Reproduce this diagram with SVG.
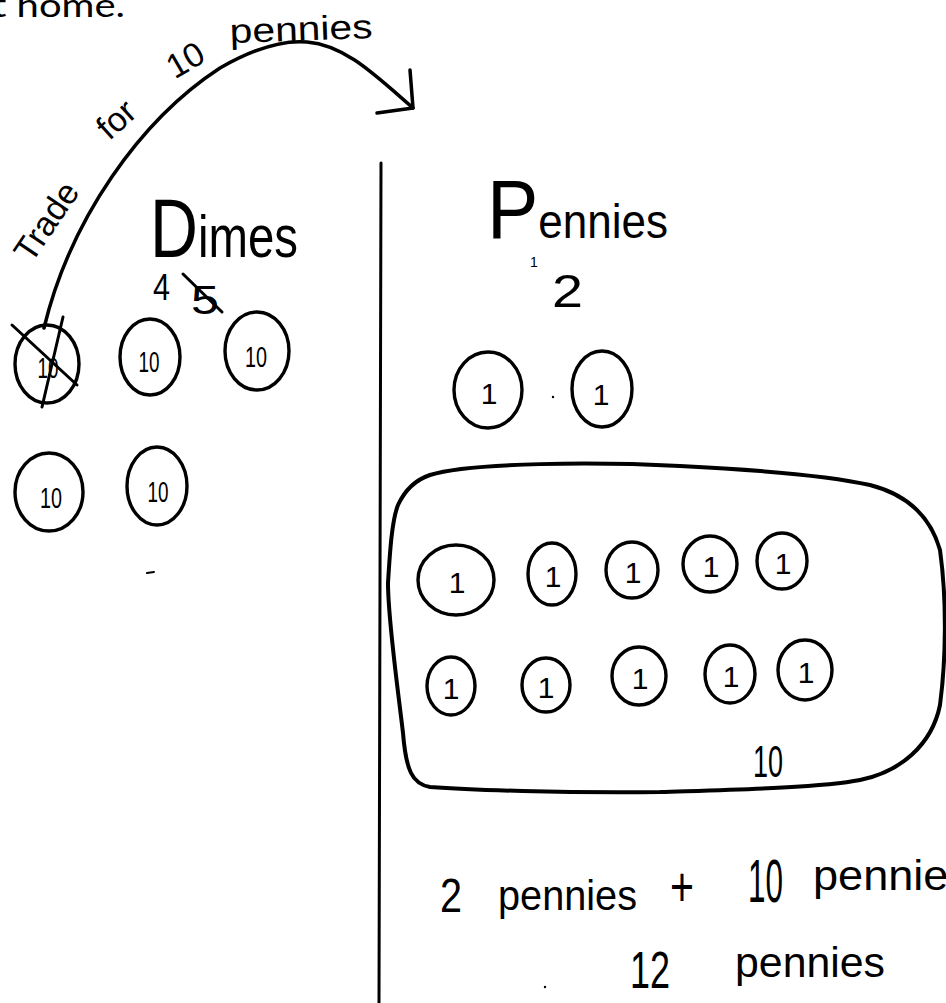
<svg xmlns="http://www.w3.org/2000/svg" width="946" height="1003" viewBox="0 0 946 1003">
  <style>
    .ink { fill: none; stroke: #000; stroke-linecap: round; stroke-linejoin: round; }
    .coin { fill: none; stroke: #000; stroke-width: 3.4; }
    .hand { font-family: "Liberation Sans", "DejaVu Sans", sans-serif; fill: #000; }
    .lbl { font-family: "Liberation Sans", "DejaVu Sans", sans-serif; fill: #000; font-size: 29px; text-anchor: middle; }
    .one { font-family: "Liberation Sans", "DejaVu Sans", sans-serif; fill: #000; font-size: 30px; text-anchor: middle; }
  </style>
  <rect width="946" height="1003" fill="#fff"/>

  <g id="header">
    <text x="-8" y="17" font-family="Lato, 'Open Sans', sans-serif" font-size="32" fill="#000" textLength="133" lengthAdjust="spacingAndGlyphs">t home.</text>
  </g>

  <g id="connectors">
    <path class="ink" stroke-width="3.5" d="M44,328 C70,220 140,120 220,68 C255,48 285,40 307,42 C345,45 375,75 413,108"/>
    <path class="ink" stroke-width="3.5" d="M410,70 L413,108 L377,113"/>
    <line class="ink" stroke-width="3" x1="381" y1="163" x2="379" y2="1003"/>
  </g>

  <g id="trade-label">
    <text class="hand" font-size="34" text-anchor="middle" transform="translate(56,228) rotate(-56)">Trade</text>
    <text class="hand" font-size="34" text-anchor="middle" transform="translate(124,128) rotate(-42)">for</text>
    <text class="hand" font-size="34" text-anchor="middle" transform="translate(191,70) rotate(-30)">10</text>
    <text class="hand" font-size="34" x="230" y="43" textLength="143" lengthAdjust="spacingAndGlyphs" transform="rotate(-2 230 43)">pennies</text>
  </g>

  <g id="dimes">
    <text class="hand" x="150" y="257" textLength="148" lengthAdjust="spacingAndGlyphs"><tspan font-size="84">D</tspan><tspan font-size="60">imes</tspan></text>
    <text class="hand" font-size="36" x="153" y="300" textLength="17" lengthAdjust="spacingAndGlyphs">4</text>
    <text class="hand" font-size="40" x="191" y="314" textLength="28" lengthAdjust="spacingAndGlyphs">5</text>
    <line class="ink" stroke-width="3" x1="183" y1="274" x2="222" y2="312"/>
  </g>

  <g id="dime-1">
    <ellipse class="coin" cx="47" cy="364" rx="32" ry="39"/>
    <text class="lbl" x="48" y="378" textLength="21" lengthAdjust="spacingAndGlyphs">10</text>
    <line class="ink" stroke-width="3" x1="12" y1="325" x2="77" y2="385"/>
    <line class="ink" stroke-width="3" x1="63" y1="317" x2="42" y2="407"/>
  </g>
  <g id="dime-2">
    <ellipse class="coin" cx="150" cy="357" rx="30" ry="38"/>
    <text class="lbl" x="149" y="372" textLength="21" lengthAdjust="spacingAndGlyphs">10</text>
  </g>
  <g id="dime-3">
    <ellipse class="coin" cx="257" cy="351" rx="32" ry="39"/>
    <text class="lbl" x="256" y="367" textLength="22" lengthAdjust="spacingAndGlyphs">10</text>
  </g>
  <g id="dime-4">
    <ellipse class="coin" cx="49" cy="492" rx="34" ry="39"/>
    <text class="lbl" x="51" y="508" textLength="22" lengthAdjust="spacingAndGlyphs">10</text>
  </g>
  <g id="dime-5">
    <ellipse class="coin" cx="157" cy="486" rx="30" ry="39"/>
    <text class="lbl" x="158" y="502" textLength="21" lengthAdjust="spacingAndGlyphs">10</text>
  </g>
  <line class="ink" stroke-width="2" x1="147" y1="573" x2="154" y2="572"/>

  <g id="pennies">
    <text class="hand" x="487" y="238" textLength="181" lengthAdjust="spacingAndGlyphs"><tspan font-size="84">P</tspan><tspan font-size="48">ennies</tspan></text>
    <text class="hand" font-size="14" x="530" y="267">1</text>
    <text class="hand" font-size="46" x="552" y="307" textLength="31" lengthAdjust="spacingAndGlyphs">2</text>
  </g>

  <g id="penny-a">
    <ellipse class="coin" cx="488" cy="390" rx="34" ry="38"/>
    <text class="one" x="489" y="404">1</text>
  </g>
  <g id="penny-b">
    <ellipse class="coin" cx="602" cy="389" rx="30" ry="38"/>
    <text class="one" x="601" y="405">1</text>
  </g>
  <circle cx="553" cy="397" r="1.2" fill="#000"/>

  <g id="ten-pennies">
    <path class="ink" stroke-width="4" d="M430,475 C470,462 600,462 680,466 C760,470 830,476 870,485 C905,494 930,515 940,550 C947,600 946,660 940,705 C932,745 900,772 860,780 C820,788 720,790 660,792 C560,793 470,790 430,787 C412,784 406,770 403,733 C398,690 388,620 388,583 C390,550 392,520 398,505 C405,490 415,480 430,475 Z"/>
    <text class="hand" font-size="44" x="753" y="777" textLength="30" lengthAdjust="spacingAndGlyphs">10</text>
  </g>

  <g id="penny-1"><ellipse class="coin" cx="456" cy="580" rx="38" ry="35"/><text class="one" x="457" y="593">1</text></g>
  <g id="penny-2"><ellipse class="coin" cx="552" cy="574" rx="24" ry="31"/><text class="one" x="553" y="587">1</text></g>
  <g id="penny-3"><ellipse class="coin" cx="632" cy="570" rx="26" ry="28"/><text class="one" x="633" y="583">1</text></g>
  <g id="penny-4"><ellipse class="coin" cx="710" cy="564" rx="27" ry="28"/><text class="one" x="711" y="577">1</text></g>
  <g id="penny-5"><ellipse class="coin" cx="782" cy="561" rx="25" ry="28"/><text class="one" x="783" y="574">1</text></g>
  <g id="penny-6"><ellipse class="coin" cx="451" cy="686" rx="24" ry="29"/><text class="one" x="451" y="699">1</text></g>
  <g id="penny-7"><ellipse class="coin" cx="546" cy="685" rx="24" ry="27"/><text class="one" x="546" y="698">1</text></g>
  <g id="penny-8"><ellipse class="coin" cx="639" cy="676" rx="27" ry="29"/><text class="one" x="640" y="689">1</text></g>
  <g id="penny-9"><ellipse class="coin" cx="730" cy="674" rx="25" ry="29"/><text class="one" x="731" y="687">1</text></g>
  <g id="penny-10"><ellipse class="coin" cx="805" cy="670" rx="27" ry="30"/><text class="one" x="806" y="683">1</text></g>

  <g id="sum">
    <text class="hand" font-size="48" x="440" y="912" textLength="22" lengthAdjust="spacingAndGlyphs">2</text>
    <text class="hand" font-size="42" x="498" y="910" textLength="139" lengthAdjust="spacingAndGlyphs">pennies</text>
    <text class="hand" font-size="56" x="670" y="906" textLength="24" lengthAdjust="spacingAndGlyphs">+</text>
    <text class="hand" font-size="62" x="748" y="902" textLength="35" lengthAdjust="spacingAndGlyphs">10</text>
    <text class="hand" font-size="42" x="813" y="890" textLength="158" lengthAdjust="spacingAndGlyphs">pennies</text>
    <text class="hand" font-size="52" x="630" y="988" textLength="40" lengthAdjust="spacingAndGlyphs">12</text>
    <text class="hand" font-size="42" x="735" y="977" textLength="150" lengthAdjust="spacingAndGlyphs">pennies</text>
    <circle cx="545" cy="987" r="1.2" fill="#000"/>
  </g>
</svg>
